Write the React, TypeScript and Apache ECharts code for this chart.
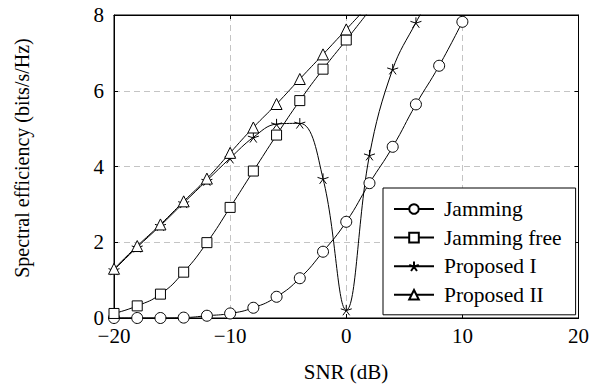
import React, { useEffect, useRef } from "react";
import * as echarts from "echarts";

const xJamming = [-20, -18, -16, -14, -12, -10, -8, -6, -4, -2, 0, 2, 4, 6, 8, 10];
const jamming = [0.0, 0.0, 0.0, 0.01, 0.06, 0.12, 0.27, 0.56, 1.05, 1.75, 2.54, 3.56, 4.52, 5.64, 6.66, 7.82];

const xFree = [-20, -18, -16, -14, -12, -10, -8, -6, -4, -2, 0, 2];
const jammingFree = [0.12, 0.32, 0.63, 1.21, 1.99, 2.92, 3.88, 4.83, 5.74, 6.57, 7.34, 8.12];

const xProp1 = [-20, -18, -16, -14, -12, -10, -8, -6, -4, -2, 0, 2, 4, 6, 8];
const proposedI = [1.27, 1.87, 2.44, 3.04, 3.63, 4.22, 4.77, 5.12, 5.14, 3.68, 0.21, 4.3, 6.57, 7.8, 8.9];

const xProp2 = [-20, -18, -16, -14, -12, -10, -8, -6, -4, -2, 0, 2];
const proposedII = [1.3, 1.9, 2.47, 3.08, 3.68, 4.36, 5.03, 5.65, 6.31, 6.96, 7.62, 8.28];

const seriesNames = ["Jamming", "Jamming free", "Proposed I", "Proposed II"];
const xLabel = "SNR (dB)";
const yLabel = "Spectral efficiency (bits/s/Hz)";

const FONT = "Liberation Serif";
const STAR =
  "path://M50,50L50,0M50,50L97.55,34.55M50,50L79.39,90.45M50,50L20.61,90.45M50,50L2.45,34.55";

const pairs = (xs: number[], ys: number[]) => xs.map((x, i) => [x, ys[i]]);

export default function App() {
  const ref = useRef<HTMLDivElement>(null);
  useEffect(() => {
    if (!ref.current) return;
    const chart = echarts.init(ref.current, undefined, { renderer: "svg" });
    const tickStyle = { show: true, inside: true, length: 4, lineStyle: { color: "#000", width: 1 } };
    const lineStyleAxis = { show: true, onZero: false, lineStyle: { color: "#000", width: 1 } };
    const fmt = (v: number) => (v < 0 ? "\u2212" + Math.abs(v) : String(v));
    const mk = (name: string, data: number[][], symbol: string, size: number, smooth: number) => ({
      name,
      type: "line",
      data,
      smooth,
      symbol,
      symbolSize: size,
      symbolKeepAspect: true,
      showAllSymbol: true,
      clip: true,
      lineStyle: { color: "#000", width: 1 },
      itemStyle: { color: "#fff", borderColor: "#000", borderWidth: 1 },
      emphasis: { disabled: true },
    });
    chart.setOption({
      animation: false,
      backgroundColor: "#fff",
      textStyle: { fontFamily: FONT },
      grid: {
        left: 114,
        right: 12,
        top: 15,
        bottom: 67,
        show: true,
        borderColor: "#000",
        borderWidth: 1,
        backgroundColor: "transparent",
      },
      xAxis: [
        {
          type: "value",
          min: -20,
          max: 20,
          interval: 10,
          axisLine: lineStyleAxis,
          axisTick: tickStyle,
          axisLabel: { color: "#000", fontFamily: FONT, fontSize: 21, margin: 7, formatter: fmt },
          splitLine: { show: true, lineStyle: { color: "#c4c4c4", type: [6, 4], width: 1 } },
        },
        {
          type: "value",
          position: "top",
          min: -20,
          max: 20,
          interval: 10,
          axisLine: lineStyleAxis,
          axisTick: tickStyle,
          axisLabel: { show: false },
          splitLine: { show: false },
        },
      ],
      yAxis: [
        {
          type: "value",
          min: 0,
          max: 8,
          interval: 2,
          axisLine: lineStyleAxis,
          axisTick: tickStyle,
          axisLabel: { color: "#000", fontFamily: FONT, fontSize: 21, margin: 10, formatter: fmt },
          splitLine: { show: true, lineStyle: { color: "#c4c4c4", type: [6, 4], width: 1 } },
        },
        {
          type: "value",
          position: "right",
          min: 0,
          max: 8,
          interval: 2,
          axisLine: lineStyleAxis,
          axisTick: tickStyle,
          axisLabel: { show: false },
          splitLine: { show: false },
        },
      ],
      legend: {
        orient: "vertical",
        left: 383,
        top: 188,
        backgroundColor: "#fff",
        borderColor: "#000",
        borderWidth: 1,
        borderRadius: 0,
        padding: [10, 14, 9, 10],
        itemWidth: 40,
        itemHeight: 12,
        itemGap: 6.6,
        selectedMode: false,
        data: seriesNames,
        textStyle: { fontFamily: FONT, fontSize: 21.5, color: "#000", padding: [0, 0, 0, 5] },
      },
      graphic: [
        {
          type: "text",
          x: 346,
          y: 372,
          style: {
            text: xLabel,
            fontFamily: FONT,
            fontSize: 21,
            fill: "#000",
            textAlign: "center",
            textVerticalAlign: "middle",
          },
        },
        {
          type: "text",
          x: 22,
          y: 158,
          rotation: Math.PI / 2,
          style: {
            text: yLabel,
            fontFamily: FONT,
            fontSize: 20,
            fill: "#000",
            textAlign: "center",
            textVerticalAlign: "middle",
          },
        },
      ],
      series: [
        mk(seriesNames[0], pairs(xJamming, jamming), "circle", 11, 0.5),
        mk(seriesNames[1], pairs(xFree, jammingFree), "rect", 10, 0.5),
        mk(seriesNames[2], pairs(xProp1, proposedI), STAR, 11, 0.4),
        mk(seriesNames[3], pairs(xProp2, proposedII), "triangle", 11, 0.5),
      ],
    });
    return () => chart.dispose();
  }, []);
  return <div ref={ref} style={{ width: 592, height: 385, position: "absolute", left: 0, top: 0 }} />;
}
